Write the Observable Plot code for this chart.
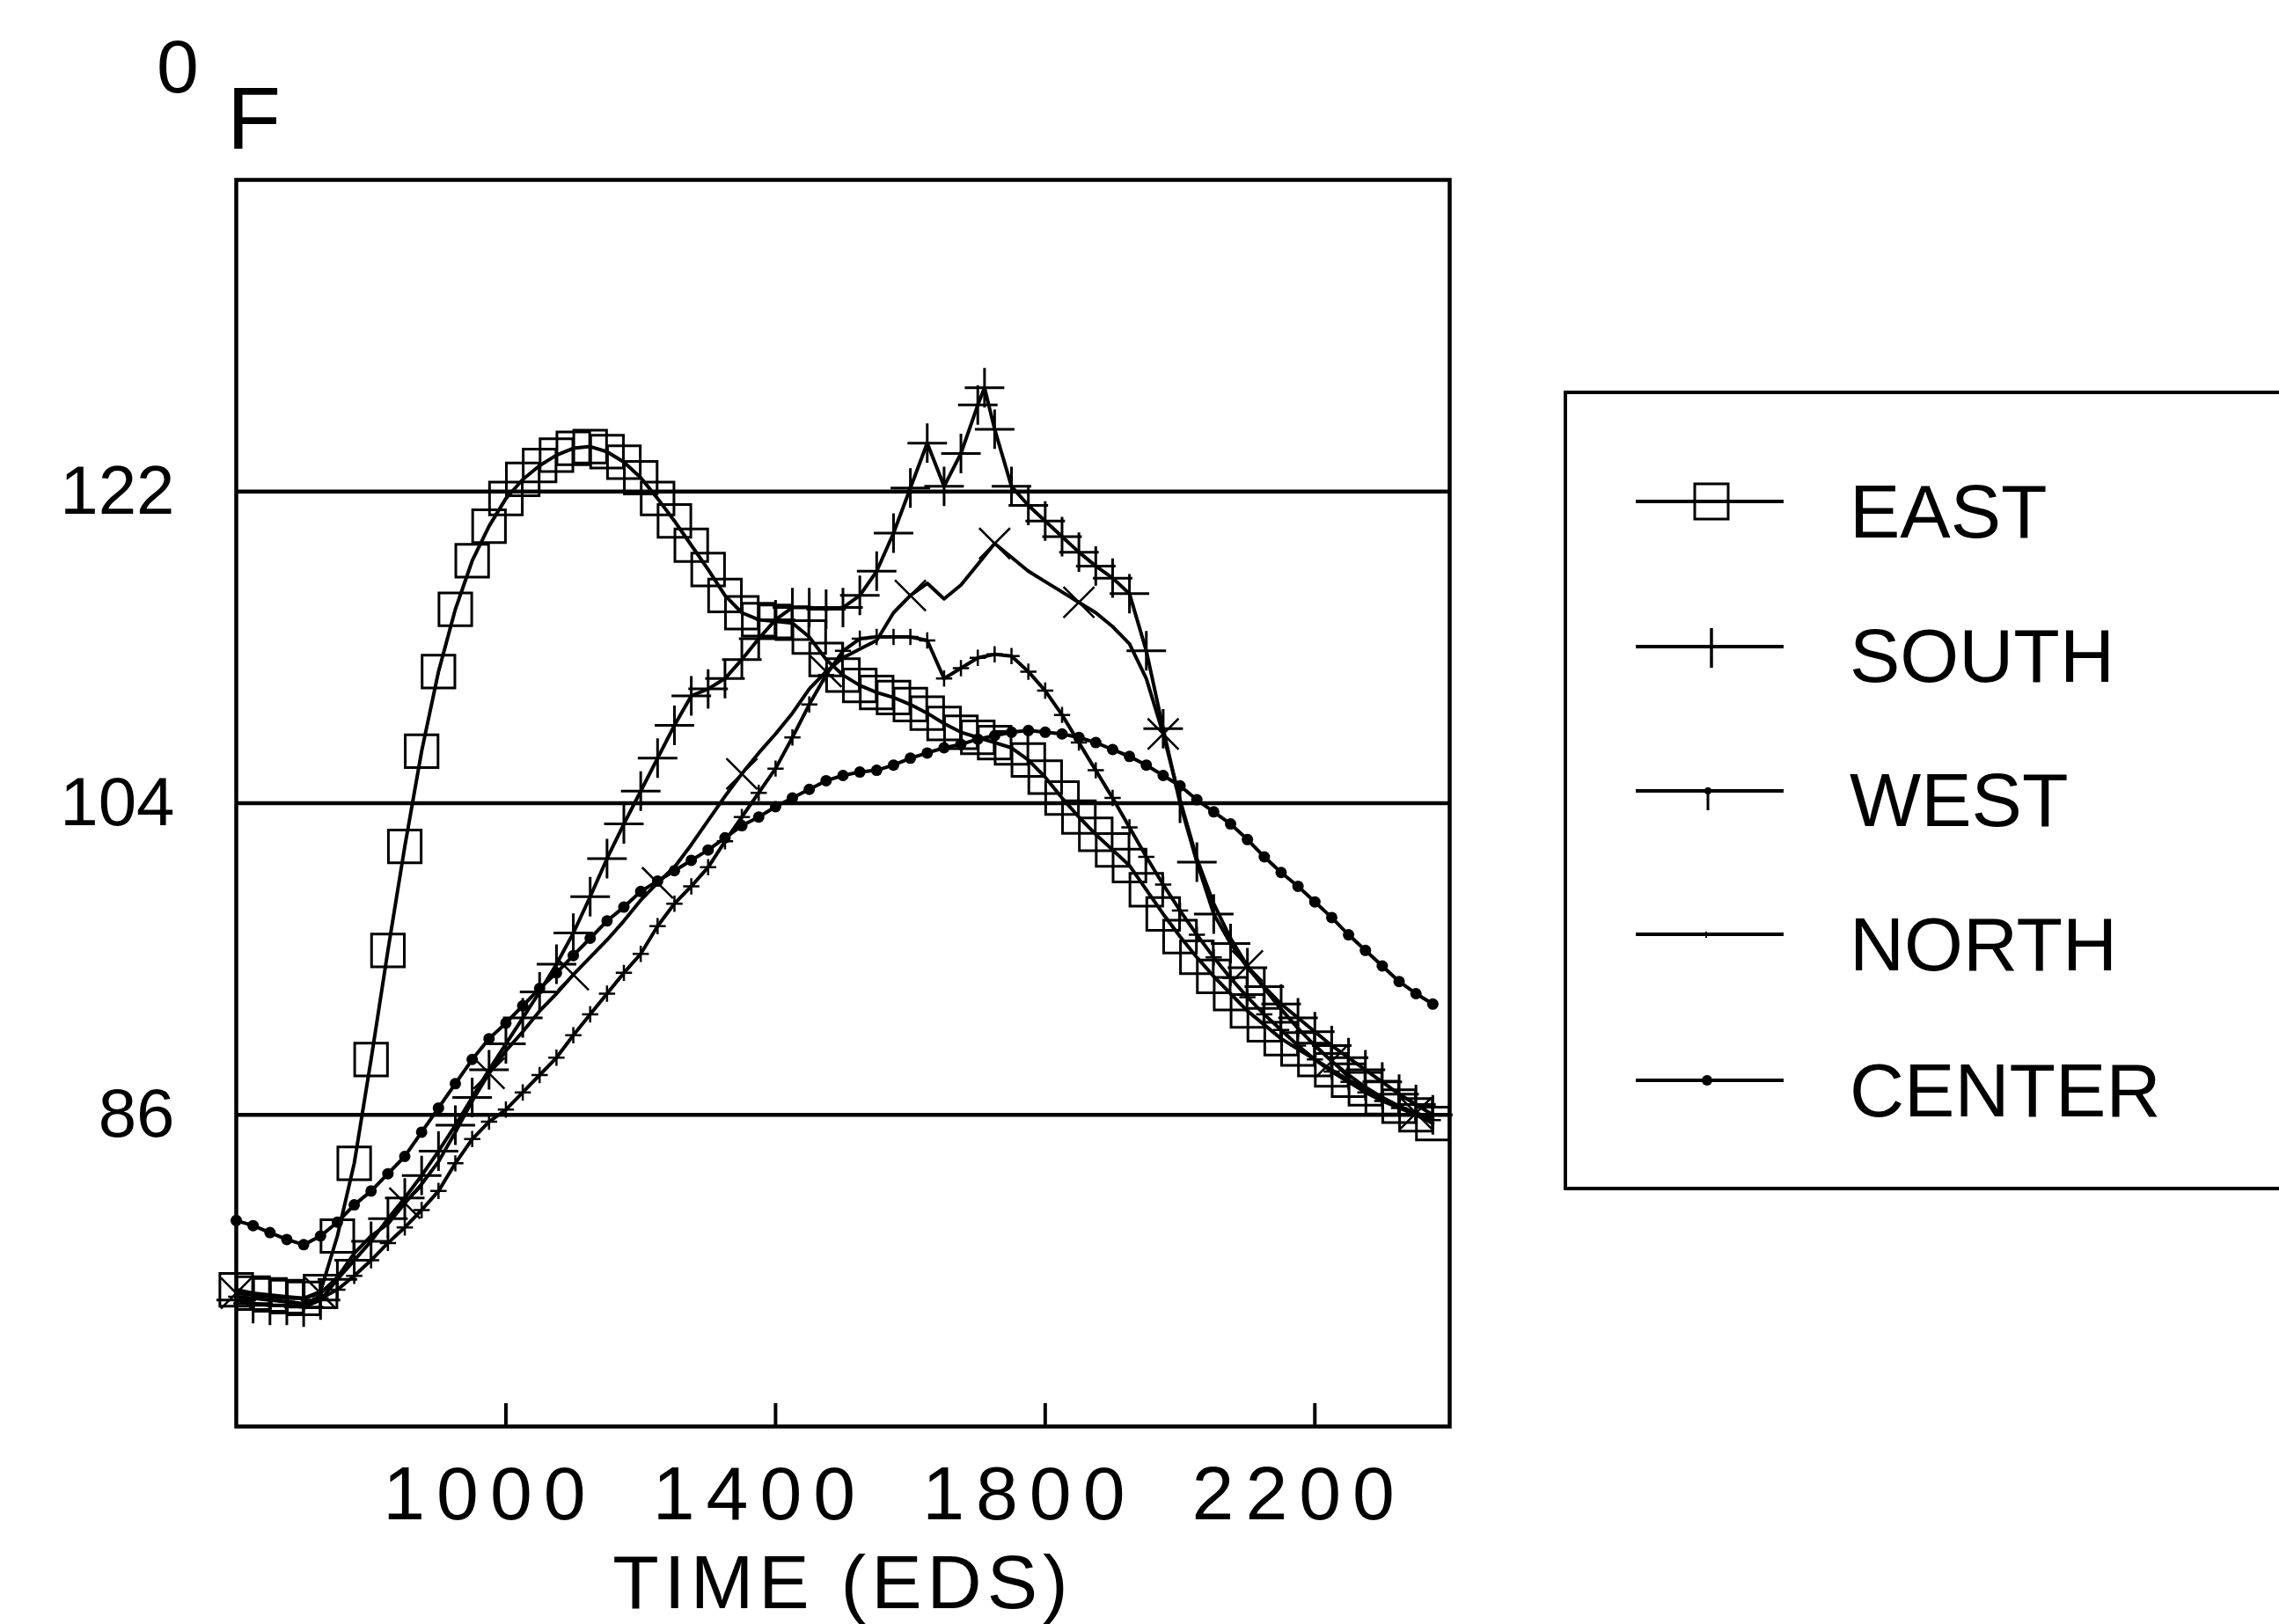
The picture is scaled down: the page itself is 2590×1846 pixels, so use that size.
<!DOCTYPE html>
<html>
<head>
<meta charset="utf-8">
<script src="https://cdn.jsdelivr.net/npm/d3@7"></script>
<script src="https://cdn.jsdelivr.net/npm/@observablehq/plot@0.6"></script>
<style>
  html, body { margin: 0; padding: 0; background: #fff; overflow: hidden; }
  #wrap { position: relative; width: 2590px; height: 1846px; overflow: hidden; background: #fff;
          font-family: "Liberation Sans", Arial, Helvetica, sans-serif; color: #000; }
  #wrap > svg { position: absolute; left: 0; top: 0; }
  .abs { position: absolute; line-height: 1; white-space: nowrap; }
  #legend { position: absolute; left: 1777px; top: 444px; width: 1000px; height: 909px;
            border: 4px solid #000; box-sizing: border-box; }
</style>
</head>
<body>
<div id="wrap"></div>
<script>
// ---------------- DATA ----------------
const times = [600,625,650,675,700,725,750,775,800,825,850,875,900,925,950,975,1000,1025,1050,1075,1100,1125,1150,1175,1200,1225,1250,1275,1300,1325,1350,1375,1400,1425,1450,1475,1500,1525,1550,1575,1600,1625,1650,1675,1700,1725,1750,1775,1800,1825,1850,1875,1900,1925,1950,1975,2000,2025,2050,2075,2100,2125,2150,2175,2200,2225,2250,2275,2300,2325,2350,2375];
const southTimes = [600,625,650,675,700,725,750,775,800,825,850,875,900,925,950,975,1000,1025,1050,1075,1100,1125,1150,1175,1200,1225,1250,1275,1300,1325,1350,1375,1400,1425,1450,1475,1500,1525,1550,1575,1600,1625,1650,1675,1700,1710,1725,1750,1775,1800,1825,1850,1875,1900,1925,1950,1975,2000,2025,2050,2075,2100,2125,2150,2175,2200,2225,2250,2275,2300,2325,2350,2375];

const east = [75.9,75.7,75.6,75.5,75.4,75.8,79.0,83.2,89.2,95.5,101.5,107.0,111.6,115.2,118.0,120.0,121.6,122.7,123.5,124.1,124.5,124.6,124.3,123.7,122.8,121.6,120.3,118.9,117.5,116.0,115.0,114.6,114.5,114.4,113.6,112.3,111.4,110.8,110.4,110.1,109.7,109.2,108.6,108.1,107.8,107.5,107.2,106.5,105.5,104.3,103.2,102.2,101.3,100.4,99.0,97.6,96.3,95.1,94.0,93.0,92.0,91.2,90.4,89.8,89.2,88.6,88.0,87.5,87.0,86.5,86.0,85.5];
const south = [75.3,75.1,75.0,75.0,74.9,75.3,76.5,77.6,78.7,80.0,81.2,82.5,83.9,85.4,87.0,88.6,90.1,91.6,93.1,94.7,96.5,98.6,100.8,102.8,104.7,106.6,108.5,110.2,110.6,111.2,112.3,113.5,114.6,115.3,115.3,115.2,115.3,116.0,117.4,119.6,122.2,124.8,122.3,124.2,127.0,128.0,125.6,122.3,121.2,120.3,119.4,118.5,117.7,117.0,116.1,112.8,108.3,104.0,100.6,97.6,95.9,94.5,93.4,92.4,91.6,90.8,90.0,89.3,88.6,87.9,87.2,86.6,86.0];
const west = [75.5,75.4,75.3,75.2,75.1,75.4,75.9,76.7,77.6,78.6,79.5,80.5,81.6,83.2,84.6,85.6,86.3,87.3,88.3,89.3,90.6,91.8,93.0,94.2,95.3,96.9,98.2,99.2,100.3,101.8,103.2,104.6,106.0,107.8,109.7,111.4,112.8,113.5,113.6,113.6,113.6,113.4,111.2,111.8,112.4,112.6,112.5,111.6,110.5,109.1,107.5,105.9,104.3,102.6,100.9,99.3,97.8,96.4,95.1,93.9,92.8,91.8,90.9,90.0,89.2,88.5,87.9,87.3,86.8,86.4,86.0,85.7];
const north = [75.7,75.6,75.5,75.4,75.4,75.7,76.6,78.0,79.0,79.7,80.9,82.0,83.3,85.0,86.8,88.4,89.7,90.8,92.0,93.0,94.1,95.1,96.1,97.2,98.4,99.4,100.3,101.6,103.0,104.4,105.7,106.9,108.0,109.2,110.6,111.6,112.4,112.9,113.4,115.0,116.0,116.7,115.8,116.6,117.8,119.0,118.2,117.4,116.8,116.2,115.6,115.0,114.2,113.2,111.2,108.0,104.2,100.8,98.2,96.2,94.6,93.3,92.1,91.0,90.0,89.1,88.3,87.6,87.0,86.5,86.1,85.8];
const center = [79.9,79.6,79.2,78.8,78.5,79.0,79.8,80.8,81.6,82.6,83.6,85.0,86.4,87.8,89.2,90.4,91.3,92.3,93.3,94.2,95.2,96.2,97.2,98.0,98.9,99.5,100.1,100.7,101.3,102.0,102.7,103.2,103.8,104.3,104.8,105.3,105.6,105.8,105.9,106.2,106.6,106.9,107.2,107.4,107.7,107.9,108.1,108.2,108.1,108.0,107.8,107.5,107.1,106.7,106.2,105.6,105.0,104.2,103.5,102.8,101.9,100.9,100.0,99.2,98.3,97.4,96.4,95.5,94.6,93.7,93.0,92.4];

const seriesNames = ["EAST", "SOUTH", "WEST", "NORTH", "CENTER"];
const xTicks = [1000, 1400, 1800, 2200];
const yTicks = [86, 104, 122];
const xDomain = [600, 2400];
const yDomain = [68, 140];
const xTitle = "TIME (EDS)";
const yUnitSup = "0";
const yUnit = "F";

// ---------------- BUILD TABLE ----------------
const seriesDefs = [
  {name: "EAST", t: times, v: east},
  {name: "SOUTH", t: southTimes, v: south},
  {name: "WEST", t: times, v: west},
  {name: "NORTH", t: times, v: north},
  {name: "CENTER", t: times, v: center}
];
const rows = seriesDefs.flatMap(s => s.v.map((v, i) => ({series: s.name, t: s.t[i], v, i})));
const of = name => rows.filter(d => d.series === name);

const FONT = '"Liberation Sans", Arial, Helvetica, sans-serif';

const chart = Plot.plot({
  width: 2590,
  height: 1846,
  marginLeft: 268,
  marginRight: 943,
  marginTop: 204,
  marginBottom: 225,
  style: {fontFamily: FONT, fontSize: "86px", background: "white", color: "black", overflow: "visible"},
  x: {domain: xDomain},
  y: {domain: yDomain},
  marks: [
    Plot.ruleY(yTicks, {stroke: "black", strokeWidth: 4.5}),
    Plot.tickX(xTicks, {insetTop: 1417 - 26, stroke: "black", strokeWidth: 4}),
    Plot.frame({stroke: "black", strokeWidth: 4.5}),
    Plot.axisY(yTicks, {tickSize: 0, tickPadding: 70, fontSize: 78, label: null, tickFormat: d => `${d}`}),
    Plot.axisX(xTicks, {tickSize: 0, tickPadding: 44, fontSize: 86, dx: -18, tickFormat: d => `${d}`,
                        label: xTitle, labelAnchor: "center", labelOffset: 206, labelArrow: "none"}),
    Plot.line(rows, {x: "t", y: "v", z: "series", stroke: "black", strokeWidth: 4}),
    Plot.dot(of("EAST"), {x: "t", y: "v", symbol: "square", r: 21, fill: "none", stroke: "black", strokeWidth: 3}),
    Plot.dot(of("SOUTH"), {x: "t", y: "v", symbol: "plus", r: 14.5, stroke: "black", strokeWidth: 3}),
    Plot.dot(of("WEST"), {x: "t", y: "v", symbol: "plus", r: 6, stroke: "black", strokeWidth: 2.5}),
    Plot.dot(of("NORTH").filter(d => d.i % 5 === 0), {x: "t", y: "v", symbol: "times", r: 16, stroke: "black", strokeWidth: 2.5}),
    Plot.dot(of("CENTER"), {x: "t", y: "v", symbol: "circle", r: 6.5, fill: "black", stroke: "none"})
  ]
});

const wrap = document.getElementById("wrap");
wrap.appendChild(chart);

// letter spacing on tick labels and title (wide plotter lettering)
d3.select(chart).selectAll('g[aria-label="x-axis tick label"] text').style("letter-spacing", "13px");
d3.select(chart).selectAll('g[aria-label="x-axis label"] text').style("letter-spacing", "6px");

// ---------------- Y UNIT LABEL (superscript 0 + F) ----------------
const sup = document.createElement("span");
sup.className = "abs";
sup.textContent = yUnitSup;
Object.assign(sup.style, {left: "178px", top: "32px", fontSize: "86px"});
wrap.appendChild(sup);
const unit = document.createElement("span");
unit.className = "abs";
unit.textContent = yUnit;
Object.assign(unit.style, {left: "258px", top: "84px", fontSize: "100px"});
wrap.appendChild(unit);

// ---------------- LEGEND ----------------
const legend = document.createElement("div");
legend.id = "legend";
wrap.appendChild(legend);

const legendRows = [
  {name: "EAST", textY: 580, lineY: 570},
  {name: "SOUTH", textY: 744, lineY: 735},
  {name: "WEST", textY: 908, lineY: 899},
  {name: "NORTH", textY: 1072, lineY: 1062},
  {name: "CENTER", textY: 1238, lineY: 1228}
];
legendRows.forEach(r => {
  const svg = d3.select(wrap).append("svg")
    .attr("width", 200).attr("height", 80)
    .style("position", "absolute").style("left", "1850px").style("top", (r.lineY - 40) + "px");
  const cx = 95, cy = 40;
  svg.append("line").attr("x1", 9).attr("x2", 177).attr("y1", cy).attr("y2", cy)
     .attr("stroke", "black").attr("stroke-width", 4);
  if (r.name === "EAST") {
    svg.append("rect").attr("x", cx - 19).attr("y", cy - 20).attr("width", 38).attr("height", 40)
       .attr("fill", "none").attr("stroke", "black").attr("stroke-width", 3);
  } else if (r.name === "SOUTH") {
    svg.append("line").attr("x1", cx).attr("x2", cx).attr("y1", cy - 21).attr("y2", cy + 24)
       .attr("stroke", "black").attr("stroke-width", 3.5);
  } else if (r.name === "WEST") {
    svg.append("line").attr("x1", cx - 4).attr("x2", cx - 4).attr("y1", cy - 4).attr("y2", cy + 22)
       .attr("stroke", "black").attr("stroke-width", 3);
    svg.append("circle").attr("cx", cx - 4).attr("cy", cy).attr("r", 4).attr("fill", "black");
  } else if (r.name === "NORTH") {
    svg.append("line").attr("x1", cx - 6).attr("x2", cx - 6).attr("y1", cy - 3).attr("y2", cy + 4)
       .attr("stroke", "black").attr("stroke-width", 2);
  } else if (r.name === "CENTER") {
    svg.append("circle").attr("cx", cx - 5).attr("cy", cy).attr("r", 6).attr("fill", "black");
  }
  const t = document.createElement("span");
  t.className = "abs";
  t.textContent = r.name;
  Object.assign(t.style, {left: "2102px", top: (r.textY - 42) + "px", fontSize: "86px"});
  wrap.appendChild(t);
});
</script>
</body>
</html>
